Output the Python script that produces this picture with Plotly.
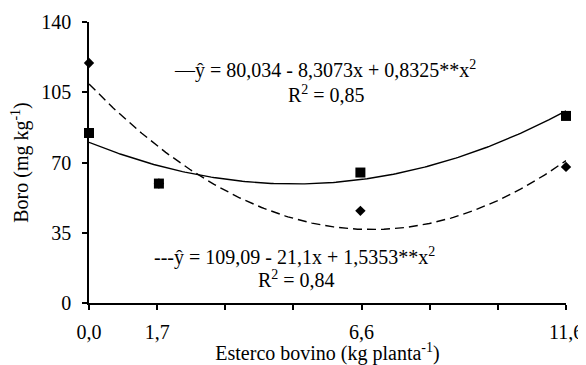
import numpy as np
import plotly.graph_objects as go

# Data
x_doses = [0.0, 1.7, 6.6, 11.6]
boro_square = [84.7, 59.5, 65.0, 93.2]     # solid-line series (squares)
boro_diamond = [119.6, 59.5, 45.9, 67.8]   # dashed-line series (diamonds)

# Regression coefficients printed on the chart
coef_square = [80.034, -8.3073, 0.8325]
coef_diamond = [109.09, -21.1, 1.5353]

x_tickvals = list(np.linspace(0, 11.6, 8))
x_ticktext = ["0,0", "1,7", "", "", "6,6", "", "", "11,6"]
y_tickvals = [0, 35, 70, 105, 140]

xs = np.linspace(0, 11.6, 200)
def poly(c, x):
    return c[0] + c[1] * x + c[2] * x ** 2

FONT = "Liberation Serif"
FS = 20

fig = go.Figure()
fig.add_trace(go.Scatter(x=xs, y=poly(coef_diamond, xs), mode="lines",
                         line=dict(color="black", width=1.4, dash="9px,5px"),
                         hoverinfo="skip", showlegend=False))
fig.add_trace(go.Scatter(x=xs, y=poly(coef_square, xs), mode="lines",
                         line=dict(color="black", width=1.4),
                         hoverinfo="skip", showlegend=False))
fig.add_trace(go.Scatter(x=x_doses, y=boro_diamond, mode="markers",
                         marker=dict(symbol="diamond", size=8, color="black"),
                         cliponaxis=False, showlegend=False))
fig.add_trace(go.Scatter(x=x_doses, y=boro_square, mode="markers",
                         marker=dict(symbol="square", size=10, color="black"),
                         cliponaxis=False, showlegend=False))

fig.add_annotation(x=0.174, y=0.832, xref="paper", yref="paper",
                   text="—ŷ = 80,034 - 8,3073x + 0,8325**x<sup>2</sup>",
                   showarrow=False, xanchor="left", yanchor="middle",
                   font=dict(family=FONT, size=FS, color="black"))
fig.add_annotation(x=0.498, y=0.744, xref="paper", yref="paper",
                   text="R<sup>2</sup> = 0,85",
                   showarrow=False, xanchor="center", yanchor="middle",
                   font=dict(family=FONT, size=FS, color="black"))
fig.add_annotation(x=0.132, y=0.167, xref="paper", yref="paper",
                   text="---ŷ = 109,09 - 21,1x + 1,5353**x<sup>2</sup>",
                   showarrow=False, xanchor="left", yanchor="middle",
                   font=dict(family=FONT, size=FS, color="black"))
fig.add_annotation(x=0.434, y=0.085, xref="paper", yref="paper",
                   text="R<sup>2</sup> = 0,84",
                   showarrow=False, xanchor="center", yanchor="middle",
                   font=dict(family=FONT, size=FS, color="black"))

# page body has an 8px margin, so the figure is shifted by 8px
fig.update_layout(
    width=578, height=357,
    margin=dict(l=81, r=20, t=14, b=62),
    paper_bgcolor="white", plot_bgcolor="white",
    font=dict(family=FONT, size=FS, color="black"),
    xaxis=dict(range=[0, 11.6], tickvals=x_tickvals, ticktext=x_ticktext,
               showgrid=False, zeroline=False, showline=True, linecolor="black",
               linewidth=1.5, ticks="outside", ticklen=5, tickwidth=1.5,
               tickcolor="black", ticklabelstandoff=5, layer="below traces",
               automargin=False, tickfont=dict(family=FONT, size=FS),
               title=dict(text="Esterco bovino (kg planta<sup>-1</sup>)", standoff=4,
                          font=dict(family=FONT, size=FS))),
    yaxis=dict(range=[0, 140], tickvals=y_tickvals,
               showgrid=False, zeroline=False, showline=True, linecolor="black",
               linewidth=1.5, ticks="outside", ticklen=5, tickwidth=1.5,
               tickcolor="black", ticklabelstandoff=7, layer="below traces",
               automargin=False, tickfont=dict(family=FONT, size=FS),
               title=dict(text="Boro (mg kg<sup>-1</sup>)", standoff=8,
                          font=dict(family=FONT, size=FS))),
)

fig.write_html("out.html")
